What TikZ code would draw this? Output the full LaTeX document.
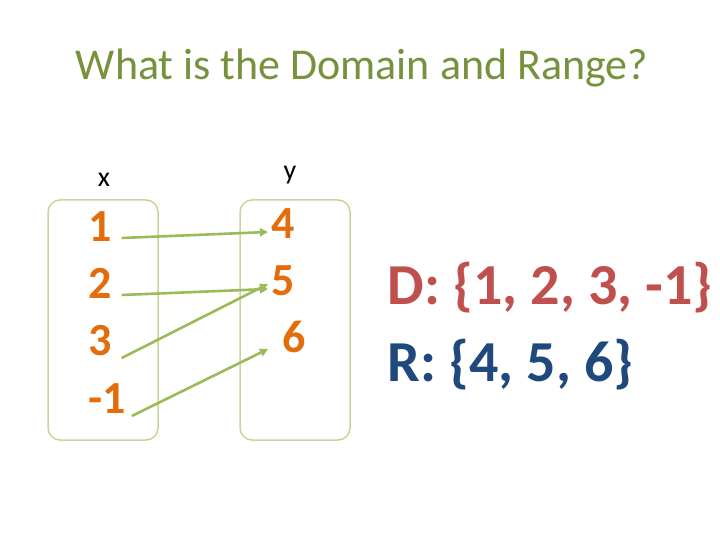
\documentclass[tikz,border=0pt]{standalone}
\usepackage{fontspec}
\setmainfont{Carlito}
\usetikzlibrary{arrows.meta}
\definecolor{tgreen}{RGB}{118,146,60}
\definecolor{agreen}{RGB}{155,187,89}
\definecolor{bgreen}{RGB}{196,215,155}
\definecolor{nor}{RGB}{228,108,10}
\definecolor{dred}{RGB}{192,80,77}
\definecolor{rblue}{RGB}{31,73,125}
\begin{document}
\begin{tikzpicture}[x=1pt,y=-1pt,
  num/.style={text=nor,font=\fontsize{46}{46}\selectfont\bfseries,inner sep=0pt,text height=0.63em,text depth=0pt},
  box/.style={draw=bgreen,line width=1.5pt,rounded corners=12pt},
  arr/.style={draw=agreen,line width=2.6pt,-{Triangle[length=8pt,width=8pt]}}]
\useasboundingbox (0,0) rectangle (720,540);
\node[text=tgreen,font=\fontsize{44}{44}\selectfont] (title) at (362,68) {What is the Domain and Range?};
\node[font=\fontsize{28}{28}\selectfont] (x) at (104,180) {x};
\node[font=\fontsize{28}{28}\selectfont] (y) at (290,175) {y};
\draw[box] (48,200) rectangle (158,440);
\draw[box] (240,200) rectangle (350,440);
\node[num,anchor=west] (n1) at (88,238) {1};
\node[num,anchor=west] (n2) at (88,295) {2};
\node[num,anchor=west] (n3) at (88,352) {3};
\node[num,anchor=west] (n4) at (88,410) {-1};
\node[num,anchor=west] (m4) at (271,235) {4};
\node[num,anchor=west] (m5) at (271,292) {5};
\node[num,anchor=west] (m6) at (282,349) {6};
\draw[arr] ([xshift=10pt]n1.east) -- ([xshift=-3pt,yshift=3pt]m4.west);
\draw[arr] ([xshift=10pt]n2.east) -- ([xshift=-3pt,yshift=3pt]m5.west);
\draw[arr] ([xshift=10pt,yshift=-6pt]n3.east) -- ([xshift=-3pt,yshift=8pt]m5.west);
\draw[arr] ([xshift=6pt,yshift=-6pt]n4.east) -- ([xshift=-14pt,yshift=0pt]m6.west);
\node[anchor=west,text=dred,font=\fontsize{58}{58}\selectfont\bfseries] (D) at (384,288) {D: \{1, 2, 3, -1\}};
\node[anchor=west,text=rblue,font=\fontsize{58}{58}\selectfont\bfseries] (R) at (384,365) {R: \{4, 5, 6\}};
\end{tikzpicture}
\end{document}
